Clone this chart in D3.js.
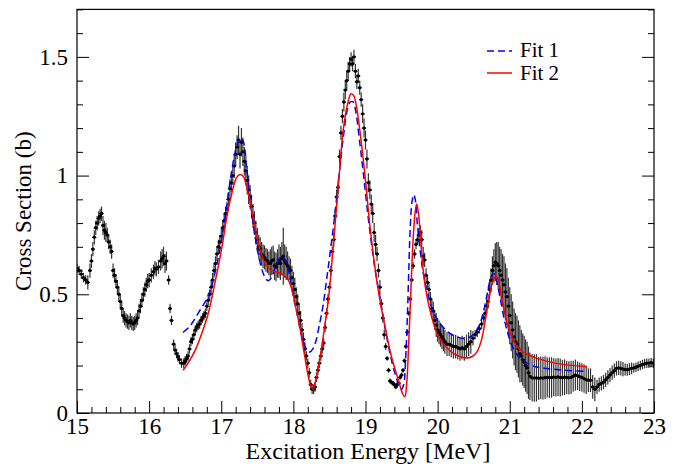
<!DOCTYPE html>
<html><head><meta charset="utf-8">
<script src="https://cdn.jsdelivr.net/npm/d3@7"></script>
<style>
html,body{margin:0;padding:0;background:#fff;}
svg text{font-family:"Liberation Serif","Times New Roman",serif;fill:#000;}
</style></head>
<body><svg id="chart" width="686" height="464"></svg>
<script>
// ---- data ----
const energy = [
15.00,15.03,15.06,15.09,15.12,15.15,15.18,15.20,15.22,15.24,15.26,15.28,15.30,15.32,15.34,15.36,15.38,15.40,15.42,15.44,15.46,15.48,15.50,15.52,15.54,15.56,15.58,15.60,15.62,15.64,15.66,15.68,15.70,15.72,15.74,15.76,15.78,15.80,15.82,15.84,15.86,15.88,15.90,15.92,15.94,15.96,15.98,16.00,16.03,16.06,16.08,16.10,16.13,16.16,16.18,16.20,16.22,16.24,16.27,16.29,16.31,16.34,16.36,16.38,16.40,16.42,16.45,16.48,16.50,16.52,16.54,16.56,16.58,16.60,16.62,16.64,16.66,16.68,16.70,16.72,16.74,16.76,16.78,16.80,16.82,16.84,16.86,16.88,16.90,16.92,16.94,16.96,16.98,17.00,17.02,17.04,17.06,17.08,17.10,17.12,17.14,17.16,17.18,17.20,17.22,17.24,17.26,17.28,17.30,17.32,17.34,17.36,17.38,17.40,17.42,17.44,17.46,17.48,17.50,17.52,17.54,17.56,17.58,17.60,17.62,17.64,17.66,17.68,17.70,17.72,17.74,17.76,17.78,17.80,17.82,17.84,17.86,17.88,17.90,17.92,17.94,17.96,17.98,18.00,18.02,18.04,18.06,18.08,18.10,18.12,18.14,18.16,18.18,18.20,18.22,18.24,18.26,18.28,18.30,18.32,18.34,18.36,18.38,18.40,18.42,18.44,18.46,18.48,18.50,18.52,18.54,18.56,18.58,18.60,18.62,18.64,18.66,18.68,18.70,18.72,18.74,18.76,18.78,18.80,18.82,18.84,18.86,18.88,18.90,18.92,18.94,18.96,18.98,19.00,19.02,19.04,19.06,19.08,19.10,19.12,19.14,19.16,19.18,19.20,19.22,19.24,19.26,19.28,19.30,19.32,19.34,19.36,19.38,19.40,19.42,19.44,19.46,19.48,19.50,19.52,19.54,19.56,19.58,19.60,19.62,19.64,19.66,19.68,19.70,19.72,19.74,19.76,19.78,19.80,19.82,19.84,19.86,19.88,19.90,19.92,19.94,19.96,19.98,20.00,20.02,20.04,20.06,20.08,20.10,20.13,20.16,20.19,20.22,20.25,20.28,20.31,20.34,20.37,20.40,20.43,20.46,20.49,20.52,20.55,20.58,20.61,20.64,20.66,20.68,20.70,20.72,20.74,20.76,20.78,20.80,20.82,20.84,20.86,20.88,20.90,20.92,20.94,20.96,20.98,21.00,21.02,21.04,21.06,21.08,21.10,21.12,21.14,21.16,21.18,21.20,21.22,21.24,21.26,21.28,21.31,21.34,21.37,21.40,21.43,21.46,21.49,21.52,21.55,21.58,21.61,21.64,21.67,21.70,21.73,21.76,21.79,21.82,21.85,21.88,21.91,21.94,21.97,22.00,22.03,22.06,22.09,22.12,22.15,22.18,22.21,22.24,22.27,22.30,22.33,22.36,22.39,22.42,22.45,22.48,22.51,22.54,22.57,22.60,22.63,22.66,22.69,22.72,22.75,22.78,22.81,22.84,22.87,22.90,22.93,22.96,22.99];
const sigma = [
0.61,0.60,0.585,0.57,0.56,0.55,0.60,0.64,0.69,0.74,0.78,0.80,0.82,0.83,0.84,0.79,0.77,0.76,0.75,0.72,0.70,0.68,0.60,0.58,0.555,0.53,0.50,0.47,0.44,0.41,0.40,0.39,0.385,0.38,0.39,0.38,0.375,0.38,0.39,0.40,0.43,0.45,0.475,0.50,0.52,0.54,0.555,0.56,0.58,0.595,0.61,0.605,0.615,0.64,0.65,0.66,0.63,0.64,0.56,0.44,0.39,0.29,0.265,0.25,0.237,0.225,0.21,0.21,0.22,0.23,0.24,0.27,0.30,0.31,0.33,0.35,0.36,0.37,0.375,0.39,0.40,0.41,0.42,0.45,0.475,0.50,0.53,0.56,0.60,0.63,0.67,0.70,0.72,0.745,0.78,0.81,0.84,0.86,0.90,0.945,0.97,1.00,1.04,1.09,1.12,1.15,1.09,1.14,1.10,1.06,1.02,0.98,0.94,0.91,0.87,0.83,0.80,0.76,0.73,0.70,0.69,0.67,0.66,0.655,0.645,0.64,0.63,0.63,0.64,0.645,0.62,0.615,0.63,0.64,0.63,0.65,0.66,0.64,0.63,0.62,0.61,0.60,0.57,0.545,0.52,0.49,0.46,0.42,0.39,0.35,0.31,0.27,0.24,0.21,0.17,0.12,0.10,0.10,0.11,0.15,0.18,0.21,0.24,0.27,0.295,0.36,0.42,0.48,0.53,0.60,0.68,0.73,0.83,0.91,0.95,1.08,1.18,1.25,1.31,1.36,1.40,1.44,1.47,1.49,1.47,1.50,1.44,1.395,1.42,1.37,1.32,1.26,1.20,1.15,1.07,0.97,0.94,0.88,0.84,0.76,0.71,0.67,0.60,0.53,0.46,0.40,0.33,0.28,0.23,0.18,0.135,0.13,0.125,0.12,0.11,0.12,0.125,0.15,0.16,0.18,0.22,0.28,0.34,0.42,0.48,0.56,0.62,0.67,0.71,0.73,0.75,0.76,0.73,0.66,0.645,0.58,0.55,0.52,0.48,0.44,0.43,0.39,0.37,0.35,0.34,0.33,0.32,0.31,0.30,0.29,0.29,0.285,0.28,0.28,0.275,0.27,0.275,0.27,0.28,0.29,0.30,0.315,0.33,0.34,0.355,0.375,0.40,0.42,0.45,0.47,0.52,0.56,0.60,0.62,0.635,0.63,0.62,0.60,0.58,0.56,0.54,0.51,0.49,0.45,0.41,0.38,0.35,0.32,0.30,0.29,0.27,0.25,0.24,0.225,0.215,0.20,0.19,0.17,0.155,0.148,0.147,0.148,0.146,0.148,0.147,0.149,0.15,0.149,0.15,0.151,0.15,0.152,0.15,0.149,0.151,0.15,0.148,0.15,0.155,0.16,0.157,0.153,0.15,0.145,0.14,0.138,0.138,0.11,0.10,0.11,0.12,0.125,0.13,0.14,0.15,0.16,0.17,0.178,0.188,0.19,0.188,0.185,0.183,0.182,0.185,0.188,0.19,0.193,0.197,0.20,0.204,0.207,0.21,0.21,0.212,0.21];
const sigmaErr = [
0.02,0.02,0.02,0.02,0.02,0.03,0.03,0.03,0.03,0.03,0.03,0.03,0.03,0.03,0.03,0.04,0.04,0.04,0.03,0.03,0.03,0.03,0.03,0.03,0.03,0.03,0.03,0.03,0.03,0.03,0.03,0.03,0.03,0.03,0.03,0.03,0.03,0.03,0.03,0.03,0.03,0.03,0.03,0.03,0.03,0.03,0.03,0.03,0.03,0.03,0.03,0.03,0.03,0.04,0.04,0.04,0.04,0.04,0.02,0.02,0.02,0.02,0.02,0.02,0.02,0.02,0.02,0.02,0.02,0.02,0.02,0.02,0.02,0.02,0.02,0.02,0.02,0.02,0.02,0.02,0.02,0.02,0.02,0.02,0.02,0.02,0.03,0.03,0.03,0.03,0.03,0.03,0.03,0.03,0.03,0.03,0.03,0.03,0.03,0.04,0.04,0.04,0.05,0.05,0.05,0.06,0.06,0.06,0.06,0.06,0.06,0.06,0.06,0.05,0.05,0.05,0.05,0.05,0.05,0.05,0.05,0.05,0.05,0.05,0.05,0.05,0.05,0.06,0.06,0.06,0.06,0.06,0.06,0.07,0.07,0.07,0.12,0.07,0.07,0.06,0.05,0.05,0.05,0.05,0.05,0.04,0.04,0.04,0.04,0.03,0.03,0.03,0.02,0.02,0.02,0.02,0.02,0.02,0.02,0.02,0.02,0.02,0.02,0.02,0.02,0.02,0.02,0.02,0.02,0.02,0.02,0.03,0.03,0.03,0.03,0.03,0.03,0.03,0.04,0.04,0.04,0.04,0.03,0.03,0.03,0.03,0.03,0.03,0.03,0.03,0.03,0.04,0.04,0.04,0.04,0.04,0.04,0.04,0.04,0.04,0.04,0.03,0.03,0.03,0.02,0.02,0.02,0.015,0.01,0.01,0.01,0.01,0.01,0.01,0.01,0.01,0.01,0.01,0.01,0.01,0.01,0.01,0.01,0.01,0.01,0.01,0.015,0.02,0.02,0.02,0.03,0.03,0.04,0.04,0.03,0.03,0.03,0.03,0.03,0.04,0.04,0.04,0.05,0.05,0.05,0.05,0.05,0.05,0.05,0.05,0.05,0.05,0.05,0.05,0.05,0.05,0.05,0.05,0.05,0.05,0.05,0.03,0.02,0.02,0.02,0.02,0.02,0.02,0.03,0.03,0.04,0.05,0.06,0.07,0.08,0.09,0.10,0.10,0.11,0.11,0.12,0.12,0.12,0.12,0.12,0.12,0.12,0.12,0.12,0.12,0.12,0.12,0.11,0.11,0.11,0.11,0.11,0.11,0.10,0.10,0.10,0.10,0.09,0.09,0.09,0.09,0.085,0.085,0.085,0.08,0.08,0.08,0.08,0.075,0.075,0.07,0.07,0.07,0.065,0.065,0.06,0.06,0.06,0.06,0.06,0.05,0.05,0.05,0.05,0.03,0.03,0.03,0.03,0.03,0.03,0.03,0.03,0.03,0.03,0.03,0.03,0.03,0.025,0.025,0.025,0.025,0.02,0.02,0.02,0.02,0.02,0.02,0.02,0.02,0.02,0.02,0.02,0.02,0.02,0.015,0.015,0.015];

const fit1E = [16.47,16.55,16.62,16.70,16.78,16.85,16.92,17.00,17.06,17.12,17.18,17.23,17.27,17.31,17.35,17.40,17.45,17.50,17.55,17.60,17.65,17.70,17.75,17.80,17.84,17.88,17.92,17.96,18.00,18.05,18.10,18.15,18.20,18.23,18.27,18.31,18.36,18.41,18.46,18.52,18.58,18.64,18.70,18.75,18.79,18.83,18.87,18.92,18.97,19.02,19.08,19.14,19.20,19.27,19.34,19.41,19.46,19.50,19.53,19.555,19.58,19.60,19.62,19.645,19.67,19.695,19.72,19.76,19.80,19.85,19.90,19.95,20.00,20.08,20.17,20.27,20.36,20.45,20.52,20.58,20.63,20.68,20.72,20.76,20.79,20.83,20.87,20.92,20.97,21.03,21.10,21.19,21.30,21.45,21.65,21.85,22.06];
const fit1 = [0.34,0.36,0.39,0.43,0.47,0.52,0.60,0.72,0.84,0.97,1.08,1.14,1.16,1.14,1.04,0.90,0.78,0.69,0.62,0.575,0.557,0.572,0.615,0.65,0.66,0.65,0.615,0.56,0.49,0.42,0.345,0.29,0.26,0.257,0.27,0.30,0.37,0.45,0.56,0.70,0.85,1.02,1.18,1.28,1.31,1.31,1.26,1.14,1.01,0.87,0.72,0.59,0.49,0.36,0.25,0.165,0.12,0.10,0.12,0.22,0.40,0.60,0.78,0.89,0.92,0.89,0.79,0.68,0.59,0.52,0.46,0.42,0.39,0.36,0.335,0.32,0.314,0.32,0.34,0.37,0.42,0.49,0.55,0.585,0.585,0.54,0.48,0.40,0.34,0.285,0.245,0.22,0.20,0.19,0.183,0.178,0.175];

const fit2E = [16.47,16.54,16.64,16.73,16.82,16.91,16.96,17.01,17.08,17.15,17.21,17.26,17.31,17.35,17.40,17.45,17.50,17.55,17.61,17.70,17.79,17.87,17.93,17.98,18.03,18.09,18.16,18.21,18.245,18.27,18.30,18.35,18.42,18.49,18.56,18.63,18.69,18.75,18.80,18.84,18.88,18.93,19.00,19.06,19.13,19.20,19.27,19.36,19.46,19.51,19.545,19.57,19.60,19.63,19.66,19.69,19.71,19.735,19.76,19.79,19.83,19.88,19.94,20.00,20.08,20.18,20.29,20.40,20.48,20.55,20.61,20.66,20.71,20.76,20.805,20.84,20.88,20.93,20.98,21.03,21.10,21.19,21.38,21.65,22.07];
const fit2 = [0.18,0.21,0.265,0.335,0.42,0.545,0.62,0.70,0.83,0.93,0.99,1.005,0.995,0.955,0.89,0.81,0.735,0.675,0.63,0.60,0.592,0.58,0.56,0.52,0.45,0.36,0.235,0.15,0.11,0.10,0.125,0.195,0.335,0.49,0.73,0.98,1.19,1.30,1.345,1.335,1.28,1.17,0.98,0.79,0.615,0.475,0.365,0.237,0.135,0.085,0.068,0.12,0.30,0.52,0.73,0.85,0.88,0.84,0.75,0.63,0.53,0.45,0.38,0.33,0.29,0.26,0.24,0.232,0.238,0.26,0.31,0.39,0.48,0.55,0.577,0.56,0.50,0.42,0.36,0.32,0.28,0.255,0.23,0.209,0.195];

const xTicks = [15,16,17,18,19,20,21,22,23];
const xTickLabels = ["15","16","17","18","19","20","21","22","23"];
const yTicks = [0,0.5,1,1.5];
const yTickLabels = ["0","0.5","1","1.5"];
const seriesNames = ["Fit 1","Fit 2"];
const xTitle = "Excitation Energy [MeV]";
const yTitle = "Cross Section (b)";

// ---- drawing ----
const svg = d3.select("#chart");
const L = 77, R = 654, T = 9.4, B = 413;
const x = d3.scaleLinear().domain([15,23]).range([L,R]);
const y = d3.scaleLinear().domain([0,1.7]).range([B,T]);

svg.append("defs").append("clipPath").attr("id","clip")
  .append("rect").attr("x",L).attr("y",T).attr("width",R-L).attr("height",B-T);

const data = energy.map((e,i)=>({e, s:sigma[i], d:sigmaErr[i]}));
const plot = svg.append("g").attr("clip-path","url(#clip)");

plot.append("g").selectAll("line").data(data).join("line")
  .attr("x1",d=>x(d.e)).attr("x2",d=>x(d.e))
  .attr("y1",d=>y(d.s-d.d)).attr("y2",d=>y(d.s+d.d))
  .attr("stroke","#333").attr("stroke-width",1.2);
plot.append("g").selectAll("line").data(data).join("line")
  .attr("x1",d=>x(d.e)-2).attr("x2",d=>x(d.e)+2)
  .attr("y1",d=>y(d.s)).attr("y2",d=>y(d.s))
  .attr("stroke","#000").attr("stroke-width",1.2);
plot.append("g").selectAll("circle").data(data).join("circle")
  .attr("cx",d=>x(d.e)).attr("cy",d=>y(d.s)).attr("r",1.7).attr("fill","#000");

const line = d3.line().x(d=>x(d[0])).y(d=>y(d[1])).curve(d3.curveCatmullRom.alpha(0.5));
plot.append("path").datum(fit1E.map((e,i)=>[e,fit1[i]]))
  .attr("d",line).attr("fill","none").attr("stroke","#0000ff").attr("stroke-width",1.5)
  .attr("stroke-dasharray","7,4");
plot.append("path").datum(fit2E.map((e,i)=>[e,fit2[i]]))
  .attr("d",line).attr("fill","none").attr("stroke","#ff0000").attr("stroke-width",1.5);

// axes
const tickFont = 23, titleFont = 24;
const xMinor = d3.range(0,41).map(i=>15+i*0.2).filter((v,i)=>i%5!==0);
const yMinor = d3.range(0,18).map(i=>i*0.1).filter((v,i)=>i%5!==0);

const gx = svg.append("g").attr("transform",`translate(0,${B})`)
  .call(d3.axisBottom(x).tickValues(xTicks).tickSize(-12).tickPadding(5)
        .tickFormat((d,i)=>xTickLabels[i]));
svg.append("g").attr("transform",`translate(0,${B})`)
  .call(d3.axisBottom(x).tickValues(xMinor).tickSize(-6).tickFormat(""));
const gy = svg.append("g").attr("transform",`translate(${L},0)`)
  .call(d3.axisLeft(y).tickValues(yTicks).tickSize(-12).tickPadding(9)
        .tickFormat((d,i)=>yTickLabels[i]));
svg.append("g").attr("transform",`translate(${L},0)`)
  .call(d3.axisLeft(y).tickValues(yMinor).tickSize(-6).tickFormat(""));
svg.append("g").attr("transform",`translate(${R},0)`)
  .call(d3.axisRight(y).tickValues(yTicks).tickSize(-12).tickFormat(""));
svg.append("g").attr("transform",`translate(${R},0)`)
  .call(d3.axisRight(y).tickValues(yMinor).tickSize(-6).tickFormat(""));
svg.selectAll(".domain").remove();
svg.selectAll(".tick line").attr("stroke","#000").attr("stroke-width",1);
gx.selectAll("text").attr("font-size",tickFont).attr("font-family","Liberation Serif, serif");
gy.selectAll("text").attr("font-size",tickFont).attr("font-family","Liberation Serif, serif");

svg.append("rect").attr("x",L).attr("y",T).attr("width",R-L).attr("height",B-T)
  .attr("fill","none").attr("stroke","#000").attr("stroke-width",1.2);

svg.append("text").attr("x",368).attr("y",459).attr("text-anchor","middle")
  .attr("font-size",titleFont).text(xTitle);
svg.append("text").attr("transform",`translate(31,${(T+B)/2}) rotate(-90)`)
  .attr("text-anchor","middle").attr("font-size",23).text(yTitle);

// legend
const leg = svg.append("g");
leg.append("line").attr("x1",487).attr("x2",512).attr("y1",51).attr("y2",51)
  .attr("stroke","#0000ff").attr("stroke-width",1.5).attr("stroke-dasharray","7,4");
leg.append("line").attr("x1",487).attr("x2",512).attr("y1",73).attr("y2",73)
  .attr("stroke","#ff0000").attr("stroke-width",1.5);
leg.append("text").attr("x",520).attr("y",57).attr("font-size",21).text(seriesNames[0]);
leg.append("text").attr("x",520).attr("y",80).attr("font-size",21).text(seriesNames[1]);
</script></body></html>
